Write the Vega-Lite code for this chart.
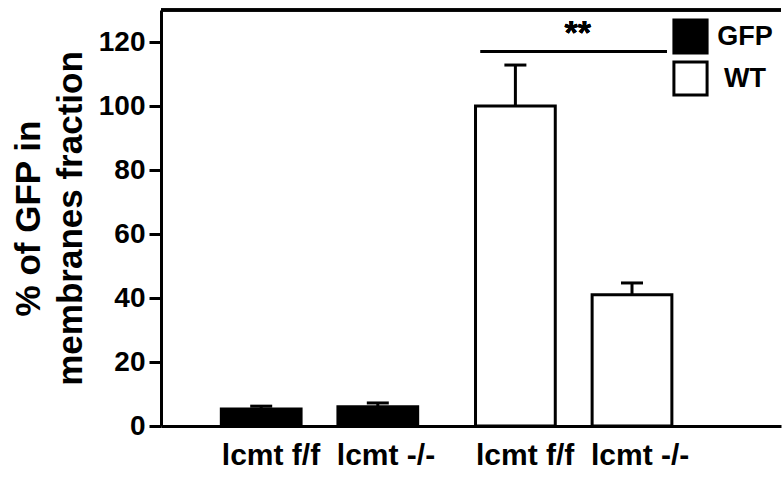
{
  "$schema": "https://vega.github.io/schema/vega-lite/v6.json",
  "autosize": "none",
  "width": 620,
  "height": 416,
  "padding": {"left": 161, "top": 10, "right": 2, "bottom": 51},
  "background": "white",
  "config": {
    "font": "Liberation Sans",
    "view": {"stroke": null},
    "axis": {"labelColor": "black", "titleColor": "black", "domainColor": "black", "tickColor": "black", "grid": false}
  },
  "data": {
    "values": [
      {"group": "GFP", "genotype": "lcmt f/f", "value": 5.3, "upper": 6.2},
      {"group": "GFP", "genotype": "lcmt -/-", "value": 6.0, "upper": 7.2},
      {"group": "WT", "genotype": "lcmt f/f", "value": 100, "upper": 112.8},
      {"group": "WT", "genotype": "lcmt -/-", "value": 41, "upper": 44.7}
    ]
  },
  "layer": [
    {
      "mark": {"type": "bar", "stroke": "black", "strokeWidth": 3},
      "encoding": {
        "x": {
          "field": "group", "type": "nominal",
          "scale": {"type": "band", "domain": ["GFP", "WT"], "paddingInner": 0.2275, "paddingOuter": 0.3333, "align": 0.356},
          "axis": {
            "title": null,
            "labelAngle": 0,
            "ticks": false,
            "domainWidth": 3,
            "labelFontSize": 30,
            "labelFontWeight": "bold",
            "labelPadding": 14,
            "labelOffset": 9,
            "labelLimit": 400,
            "labelExpr": "'lcmt f/f\u00a0\u00a0lcmt -/-'"
          }
        },
        "xOffset": {"field": "genotype", "type": "nominal", "scale": {"domain": ["lcmt f/f", "lcmt -/-"], "paddingInner": 0.316, "paddingOuter": 0}},
        "y": {
          "field": "value", "type": "quantitative",
          "scale": {"domain": [0, 130], "nice": false},
          "axis": {
            "values": [0, 20, 40, 60, 80, 100, 120],
            "title": ["% of GFP in", "membranes fraction"],
            "domainWidth": 3,
            "tickSize": 12,
            "tickWidth": 3,
            "labelFontSize": 28,
            "labelFontWeight": "bold",
            "labelPadding": 4,
            "titleFontSize": 35,
            "titleFontWeight": "bold",
            "titleLineHeight": 42,
            "titlePadding": 10
          }
        },
        "fill": {
          "field": "group", "type": "nominal",
          "scale": {"domain": ["GFP", "WT"], "range": ["black", "white"]},
          "legend": {
            "orient": "none",
            "legendX": 511,
            "legendY": 8,
            "title": null,
            "padding": 0,
            "symbolType": "square",
            "symbolSize": 1100,
            "symbolStrokeColor": "black",
            "symbolStrokeWidth": 3,
            "labelFontSize": 27,
            "labelFontWeight": "bold",
            "labelColor": "black",
            "labelAlign": "center",
            "labelOffset": 36,
            "rowPadding": -7
          }
        }
      }
    },
    {
      "mark": {"type": "rule", "color": "black", "strokeWidth": 3},
      "encoding": {
        "x": {"field": "group", "type": "nominal"},
        "xOffset": {"field": "genotype", "type": "nominal"},
        "y": {"field": "value", "type": "quantitative"},
        "y2": {"field": "upper"}
      }
    },
    {
      "mark": {"type": "tick", "orient": "horizontal", "color": "black", "size": 22, "thickness": 3, "opacity": 1},
      "encoding": {
        "x": {"field": "group", "type": "nominal"},
        "xOffset": {"field": "genotype", "type": "nominal"},
        "y": {"field": "upper", "type": "quantitative"}
      }
    },
    {
      "mark": {"type": "tick", "orient": "horizontal", "color": "black", "size": 186, "thickness": 3, "opacity": 1},
      "encoding": {
        "x": {"datum": "WT"},
        "y": {"datum": 117}
      }
    },
    {
      "mark": {"type": "text", "text": "**", "fontSize": 34, "fontWeight": "bold", "color": "black", "baseline": "middle", "align": "center", "dx": 4},
      "encoding": {
        "x": {"datum": "WT"},
        "y": {"datum": 122.5}
      }
    },
    {
      "mark": {"type": "rule", "color": "black", "strokeWidth": 3},
      "encoding": {
        "y": {"datum": 130}
      }
    }
  ]
}
